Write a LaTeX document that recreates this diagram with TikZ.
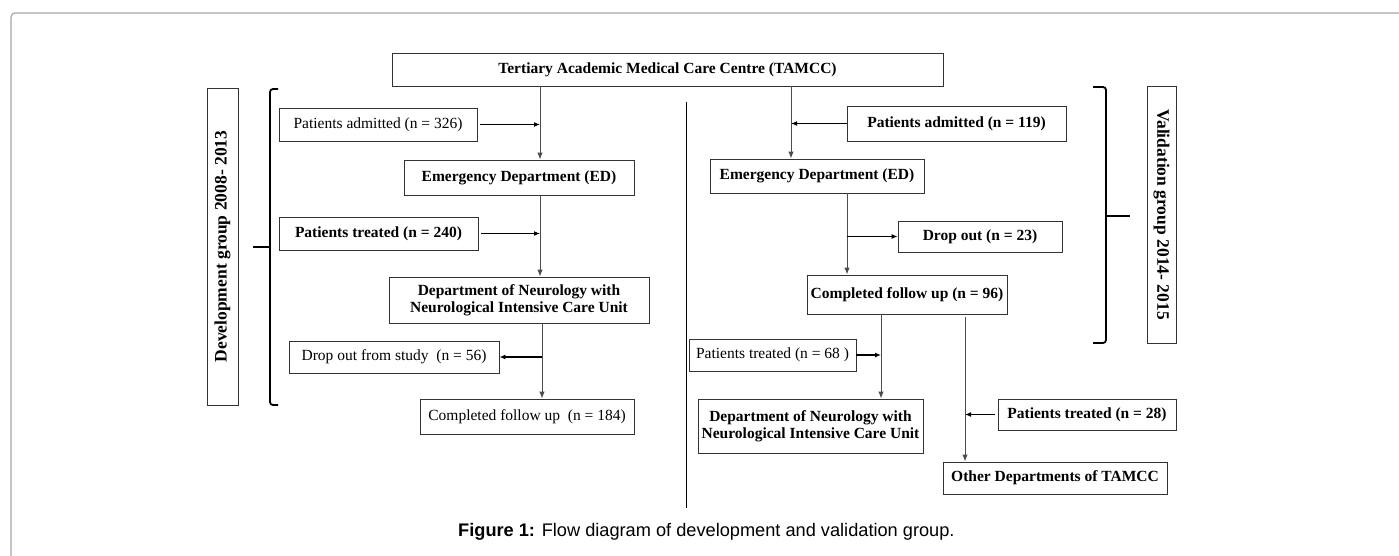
\documentclass[tikz,border=0pt]{standalone}
\usepackage{fontspec}
\setmainfont{Liberation Serif}
\newfontfamily\capfont{Liberation Sans}
\usetikzlibrary{arrows.meta}
\begin{document}
\begin{tikzpicture}[x=1pt,y=-1pt,
  box/.style={draw=black!80, line width=0.9pt, inner sep=0pt, align=center, font=\fontsize{15.5}{17}\selectfont},
  boxb/.style={box, font=\fontsize{15.5}{17}\selectfont\bfseries},
  sideb/.style={box, font=\fontsize{17.5}{19}\selectfont\bfseries},
  vconn/.style={draw=black!70, line width=1pt, -{Latex[length=7pt,width=5.5pt]}},
  hconn/.style={draw=black, line width=1.6pt, -{Latex[length=6pt,width=5pt]}},
  brace/.style={draw=black, line width=1.8pt, rounded corners=3pt},
  ]
\useasboundingbox (0,0) rectangle (1399,556);
% frame
\draw[black!35, line width=1.2pt, rounded corners=4pt] (11,556) -- (11,13) -- (1399,13);

% column coordinates
\coordinate (cL) at (540,0);
\coordinate (cL2) at (542,0);
\coordinate (cR) at (791,0);
\coordinate (cR2) at (847,0);
\coordinate (cR3) at (881,0);
\coordinate (cR4) at (965,0);

% top
\node[boxb, minimum width=551, minimum height=33] (top) at (667.5,69.5) {Tertiary Academic Medical Care Centre (TAMCC)};

% left side
\node[box, minimum width=198, minimum height=33] (pa1) at (378,124.5) {Patients admitted (n = 326)};
\node[boxb, minimum width=230, minimum height=35] (ed1) at (519,177.5) {Emergency Department (ED)};
\node[boxb, minimum width=199, minimum height=33] (pt1) at (378.5,233.5) {Patients treated (n = 240)};
\node[boxb, minimum width=260, minimum height=46] (neu1) at (519,300) {Department of Neurology with\\Neurological Intensive Care Unit};
\node[box, minimum width=210, minimum height=32] (do1) at (394,357) {Drop out from study~ (n = 56)};
\node[box, minimum width=214, minimum height=35] (cf1) at (527,416.5) {Completed follow up~ (n = 184)};
\node[sideb, rotate=90, minimum width=317, minimum height=31] (dev) at (222.5,246.5) {Development group 2008- 2013};

% right side
\node[boxb, minimum width=219, minimum height=35] (pa2) at (956.5,123.5) {Patients admitted (n = 119)};
\node[boxb, minimum width=214, minimum height=34] (ed2) at (817,176) {Emergency Department (ED)};
\node[boxb, minimum width=164, minimum height=31] (do2) at (980,236.5) {Drop out (n = 23)};
\node[boxb, minimum width=200, minimum height=39] (cf2) at (907,294.5) {Completed follow up (n = 96)};
\node[box, minimum width=167, minimum height=32] (pt68) at (772.5,355) {Patients treated (n = 68 )};
\node[boxb, minimum width=225, minimum height=54] (neu2) at (810.5,426) {Department of Neurology with\\Neurological Intensive Care Unit};
\node[boxb, minimum width=178, minimum height=31] (pt28) at (1087,414.5) {Patients treated (n = 28)};
\node[boxb, minimum width=224, minimum height=32] (oth) at (1055,478) {Other Departments of TAMCC};
\node[sideb, rotate=-90, minimum width=257, minimum height=29] (val) at (1161.5,214.5) {Validation group 2014- 2015};

% left connectors
\draw[vconn] (top.south -| cL) -- (ed1.north -| cL);
\draw[hconn, shorten <=3pt] (pa1.east) -- (pa1.east -| cL);
\draw[vconn] (ed1.south -| cL) -- (neu1.north -| cL);
\draw[hconn, shorten <=3pt] (pt1.east) -- (pt1.east -| cL);
\draw[vconn] (neu1.south -| cL2) -- (cf1.north -| cL2);
\draw[hconn] (do1.east -| cL2) -- (do1.east);

% right connectors
\draw[vconn] (top.south -| cR) -- (ed2.north -| cR);
\draw[hconn] (pa2.west) -- (pa2.west -| cR);
\draw[vconn] (ed2.south -| cR2) -- (cf2.north -| cR2);
\draw[hconn] (do2.west -| cR2) -- (do2.west);
\draw[vconn] (cf2.south -| cR3) -- (neu2.north -| cR3);
\draw[hconn] (pt68.east) -- (pt68.east -| cR3);
\draw[vconn, shorten <=3pt] (cf2.south -| cR4) -- (oth.north -| cR4);
\draw[hconn, shorten <=3pt] (pt28.west) -- (pt28.west -| cR4);

% divider
\coordinate (divT) at (686,102);
\coordinate (divB) at (686,508);
\draw[black, line width=0.9pt] (divT) -- (divB);

% braces
\draw[brace] (278,89) -- (270,89) -- (270,405) -- (278,405);
\draw[black, line width=1.8pt] (253,247) -- (270,247);
\draw[brace] (1093,87) -- (1106,87) -- (1106,343) -- (1093,343);
\draw[black, line width=1.8pt] (1106,216) -- (1130,216);

% caption
\node[anchor=base west, inner sep=0pt, font=\capfont\fontsize{18.2}{20}\selectfont] (cap) at (458,536) {\textbf{Figure 1:} Flow diagram of development and validation group.};
\end{tikzpicture}
\end{document}
